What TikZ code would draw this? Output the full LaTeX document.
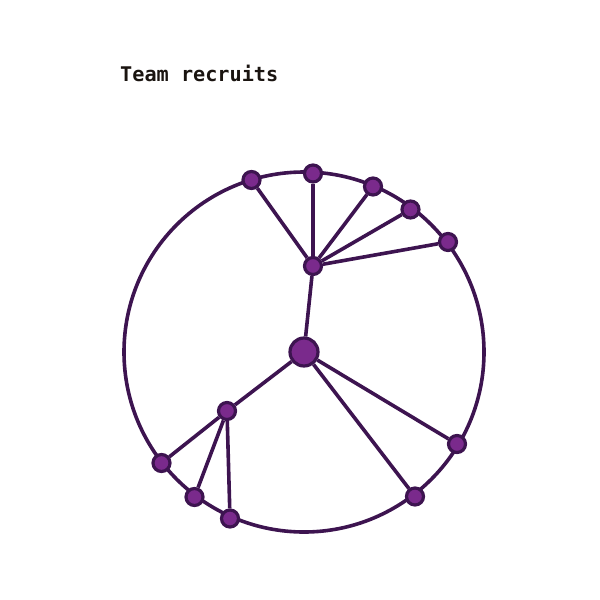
\documentclass[tikz,border=0pt]{standalone}
\usepackage{fontspec}
\newfontfamily\titlefont{DejaVu Sans Mono}
\usepackage{tikz}
\usetikzlibrary{backgrounds}

\definecolor{edgepurple}{HTML}{3D1450}
\definecolor{nodepurple}{HTML}{7A2A8C}
\definecolor{titleink}{HTML}{1A1410}

\tikzset{
  member/.style={circle, draw=edgepurple, fill=nodepurple, line width=3.2pt, minimum size=17pt, inner sep=0pt},
  leader/.style={member, minimum size=28pt},
  link/.style={draw=edgepurple, line width=3.6pt}
}

\begin{document}
\begin{tikzpicture}[x=1pt, y=-1pt]
\useasboundingbox (0,0) rectangle (600,600);

% Title
\node[anchor=base west, inner sep=0pt, text=titleink, font=\titlefont\bfseries\fontsize{20.2}{22}\selectfont] (title) at (120,81) {Team recruits};

% Nodes
\node[leader] (boss) at (304,352) {};
\node[member] (hubA) at (313,266) {};
\node[member] (hubB) at (227,411) {};

\node[member] (a1) at (251.5,180) {};
\node[member] (a2) at (313,173.5) {};
\node[member] (a3) at (373,186.5) {};
\node[member] (a4) at (410.5,209.5) {};
\node[member] (a5) at (448,242) {};

\node[member] (b1) at (161.5,463) {};
\node[member] (b2) at (194.5,497) {};
\node[member] (b3) at (230,518.5) {};

\node[member] (c1) at (457,444) {};
\node[member] (c2) at (415,496.5) {};

% Ring and links behind the nodes
\begin{scope}[on background layer]
  \coordinate (ringcentre) at (304,352);
  \draw[link] (ringcentre) circle (180pt);
  \draw[link] (boss) -- (hubA);
  \draw[link] (boss) -- (hubB);
  \draw[link] (boss) -- (c1);
  \draw[link] (boss) -- (c2);
  \foreach \n in {a1,a2,a3,a4,a5}
    \draw[link] (hubA) -- (\n);
  \foreach \n in {b1,b2,b3}
    \draw[link] (hubB) -- (\n);
\end{scope}

\end{tikzpicture}
\end{document}
